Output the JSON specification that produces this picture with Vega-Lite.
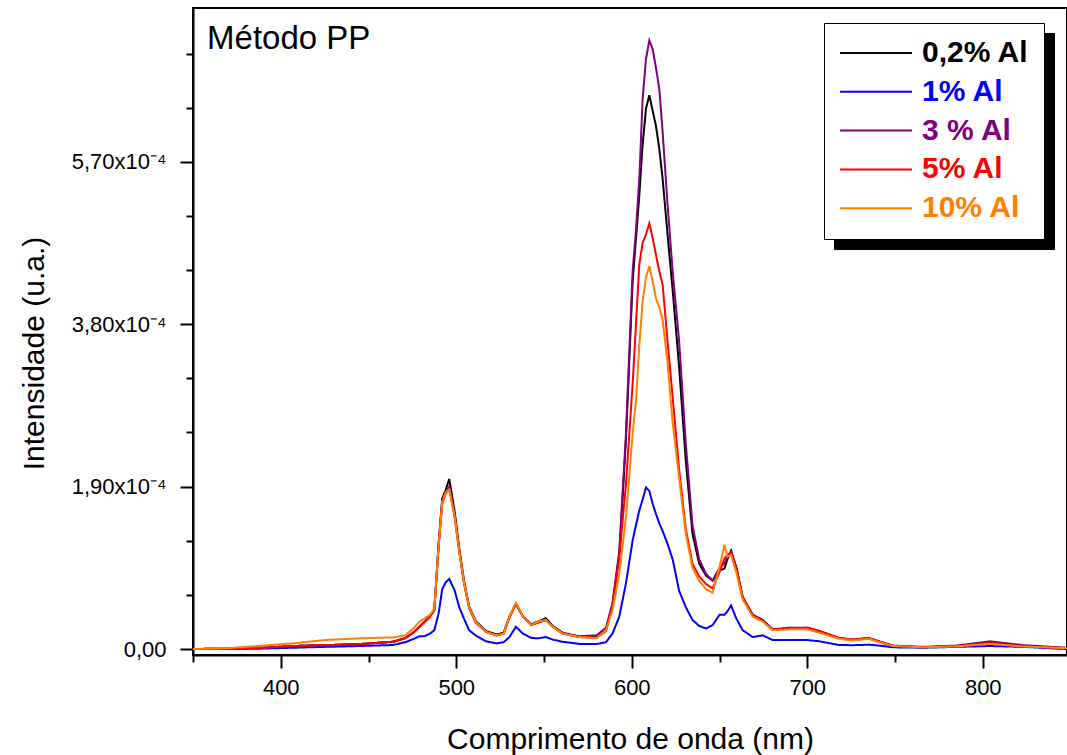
{
 "$schema": "https://vega.github.io/schema/vega-lite/v6.json",
 "width": 874, "height": 647,
 "autosize": {"type": "none"},
 "padding": {"left": 193, "top": 8, "right": 0, "bottom": 100},
 "background": "white",
 "data": {"values": [
  {"w":350,"s1":0,"s2":0,"s3":0,"s4":0,"s5":0},
  {"w":370,"s1":0.005,"s2":0,"s3":0.005,"s4":0.005,"s5":0.01},
  {"w":390,"s1":0.015,"s2":0.005,"s3":0.015,"s4":0.015,"s5":0.04},
  {"w":407,"s1":0.035,"s2":0.015,"s3":0.035,"s4":0.035,"s5":0.066},
  {"w":425,"s1":0.045,"s2":0.025,"s3":0.045,"s4":0.045,"s5":0.105},
  {"w":445,"s1":0.058,"s2":0.035,"s3":0.058,"s4":0.058,"s5":0.125},
  {"w":464,"s1":0.085,"s2":0.047,"s3":0.085,"s4":0.085,"s5":0.136},
  {"w":471,"s1":0.128,"s2":0.08,"s3":0.128,"s4":0.128,"s5":0.16},
  {"w":476,"s1":0.2,"s2":0.12,"s3":0.2,"s4":0.2,"s5":0.25},
  {"w":479,"s1":0.26,"s2":0.15,"s3":0.26,"s4":0.26,"s5":0.32},
  {"w":482,"s1":0.32,"s2":0.15,"s3":0.32,"s4":0.32,"s5":0.36},
  {"w":485,"s1":0.38,"s2":0.18,"s3":0.38,"s4":0.38,"s5":0.4},
  {"w":487.5,"s1":0.46,"s2":0.22,"s3":0.46,"s4":0.45,"s5":0.47},
  {"w":490,"s1":1.25,"s2":0.42,"s3":1.22,"s4":1.22,"s5":1.22},
  {"w":492,"s1":1.76,"s2":0.7,"s3":1.72,"s4":1.7,"s5":1.72},
  {"w":494,"s1":1.86,"s2":0.78,"s3":1.84,"s4":1.82,"s5":1.83},
  {"w":496,"s1":1.99,"s2":0.82,"s3":1.9,"s4":1.87,"s5":1.87},
  {"w":499,"s1":1.62,"s2":0.69,"s3":1.58,"s4":1.56,"s5":1.56},
  {"w":501.7,"s1":1.18,"s2":0.49,"s3":1.15,"s4":1.14,"s5":1.14},
  {"w":504.5,"s1":0.79,"s2":0.35,"s3":0.77,"s4":0.76,"s5":0.77},
  {"w":507.3,"s1":0.5,"s2":0.22,"s3":0.49,"s4":0.48,"s5":0.49},
  {"w":511,"s1":0.33,"s2":0.16,"s3":0.32,"s4":0.31,"s5":0.32},
  {"w":517,"s1":0.21,"s2":0.09,"s3":0.2,"s4":0.2,"s5":0.2},
  {"w":523,"s1":0.17,"s2":0.066,"s3":0.16,"s4":0.16,"s5":0.16},
  {"w":527,"s1":0.19,"s2":0.08,"s3":0.18,"s4":0.18,"s5":0.18},
  {"w":530.3,"s1":0.38,"s2":0.14,"s3":0.37,"s4":0.37,"s5":0.38},
  {"w":534,"s1":0.53,"s2":0.26,"s3":0.53,"s4":0.53,"s5":0.54},
  {"w":538,"s1":0.38,"s2":0.18,"s3":0.38,"s4":0.38,"s5":0.38},
  {"w":542.7,"s1":0.29,"s2":0.13,"s3":0.28,"s4":0.28,"s5":0.28},
  {"w":546.5,"s1":0.32,"s2":0.125,"s3":0.31,"s4":0.31,"s5":0.32},
  {"w":551,"s1":0.36,"s2":0.14,"s3":0.34,"s4":0.34,"s5":0.34},
  {"w":555,"s1":0.27,"s2":0.11,"s3":0.26,"s4":0.26,"s5":0.26},
  {"w":560.6,"s1":0.19,"s2":0.085,"s3":0.19,"s4":0.18,"s5":0.18},
  {"w":570,"s1":0.14,"s2":0.06,"s3":0.15,"s4":0.14,"s5":0.14},
  {"w":580,"s1":0.14,"s2":0.058,"s3":0.16,"s4":0.13,"s5":0.13},
  {"w":585.3,"s1":0.22,"s2":0.08,"s3":0.25,"s4":0.21,"s5":0.22},
  {"w":589,"s1":0.52,"s2":0.18,"s3":0.53,"s4":0.49,"s5":0.45},
  {"w":592.9,"s1":1.1,"s2":0.38,"s3":1.15,"s4":1.08,"s5":0.88},
  {"w":596.7,"s1":2.45,"s2":0.77,"s3":2.52,"s4":1.93,"s5":1.54},
  {"w":600.5,"s1":4.3,"s2":1.27,"s3":4.42,"s4":3.1,"s5":2.52},
  {"w":602.4,"s1":4.8,"s2":1.45,"s3":4.9,"s4":3.8,"s5":2.9},
  {"w":604.3,"s1":5.31,"s2":1.62,"s3":5.5,"s4":4.5,"s5":3.55},
  {"w":606.2,"s1":5.9,"s2":1.75,"s3":6.44,"s4":4.75,"s5":4.07},
  {"w":608.1,"s1":6.32,"s2":1.89,"s3":6.9,"s4":4.85,"s5":4.35},
  {"w":610,"s1":6.48,"s2":1.85,"s3":7.12,"s4":4.98,"s5":4.48},
  {"w":611.9,"s1":6.3,"s2":1.7,"s3":7.02,"s4":4.81,"s5":4.3},
  {"w":613.8,"s1":6.12,"s2":1.58,"s3":6.8,"s4":4.61,"s5":4.1},
  {"w":615.7,"s1":5.85,"s2":1.47,"s3":6.55,"s4":4.42,"s5":4.0},
  {"w":617.6,"s1":5.5,"s2":1.38,"s3":6.05,"s4":4.26,"s5":3.85},
  {"w":620.4,"s1":4.85,"s2":1.23,"s3":5.2,"s4":3.6,"s5":3.35},
  {"w":623.3,"s1":4.2,"s2":1.05,"s3":4.42,"s4":2.95,"s5":2.65},
  {"w":627,"s1":3.3,"s2":0.68,"s3":3.6,"s4":2.1,"s5":2.0},
  {"w":630.8,"s1":2.2,"s2":0.49,"s3":2.4,"s4":1.4,"s5":1.35},
  {"w":634.6,"s1":1.35,"s2":0.34,"s3":1.45,"s4":1.0,"s5":0.95},
  {"w":638.4,"s1":1.0,"s2":0.27,"s3":1.05,"s4":0.85,"s5":0.8},
  {"w":642.3,"s1":0.86,"s2":0.24,"s3":0.88,"s4":0.76,"s5":0.7},
  {"w":646.1,"s1":0.8,"s2":0.28,"s3":0.8,"s4":0.71,"s5":0.66},
  {"w":650,"s1":0.92,"s2":0.4,"s3":0.95,"s4":0.9,"s5":0.96},
  {"w":652.8,"s1":0.94,"s2":0.4,"s3":1.0,"s4":1.06,"s5":1.22},
  {"w":654.5,"s1":1.05,"s2":0.44,"s3":1.08,"s4":1.1,"s5":1.08},
  {"w":656.6,"s1":1.15,"s2":0.51,"s3":1.13,"s4":1.13,"s5":1.1},
  {"w":659.5,"s1":0.96,"s2":0.36,"s3":0.96,"s4":0.95,"s5":0.9},
  {"w":663.2,"s1":0.61,"s2":0.22,"s3":0.6,"s4":0.6,"s5":0.58},
  {"w":668.9,"s1":0.4,"s2":0.14,"s3":0.4,"s4":0.39,"s5":0.38},
  {"w":674.6,"s1":0.34,"s2":0.16,"s3":0.33,"s4":0.33,"s5":0.32},
  {"w":680.3,"s1":0.23,"s2":0.105,"s3":0.23,"s4":0.23,"s5":0.22},
  {"w":690,"s1":0.24,"s2":0.105,"s3":0.25,"s4":0.24,"s5":0.23},
  {"w":700,"s1":0.24,"s2":0.105,"s3":0.25,"s4":0.25,"s5":0.23},
  {"w":707,"s1":0.2,"s2":0.09,"s3":0.21,"s4":0.21,"s5":0.19},
  {"w":718,"s1":0.125,"s2":0.047,"s3":0.13,"s4":0.13,"s5":0.12},
  {"w":726,"s1":0.105,"s2":0.045,"s3":0.11,"s4":0.11,"s5":0.1},
  {"w":735,"s1":0.125,"s2":0.05,"s3":0.13,"s4":0.125,"s5":0.12},
  {"w":741,"s1":0.085,"s2":0.04,"s3":0.09,"s4":0.085,"s5":0.08},
  {"w":749,"s1":0.035,"s2":0.02,"s3":0.04,"s4":0.035,"s5":0.035},
  {"w":766,"s1":0.02,"s2":0.015,"s3":0.025,"s4":0.02,"s5":0.02},
  {"w":785,"s1":0.035,"s2":0.025,"s3":0.04,"s4":0.035,"s5":0.03},
  {"w":804,"s1":0.073,"s2":0.035,"s3":0.09,"s4":0.07,"s5":0.06},
  {"w":823,"s1":0.03,"s2":0.025,"s3":0.045,"s4":0.03,"s5":0.03},
  {"w":848,"s1":0.01,"s2":0,"s3":0.015,"s4":0.01,"s5":0.01}
 ]},
 "layer": [
  {
   "transform": [{"fold": ["s1", "s2", "s3", "s4", "s5"], "as": ["serie", "v"]}],
   "mark": {"type": "line", "strokeWidth": 2, "clip": true},
   "encoding": {
    "x": {"field": "w", "type": "quantitative",
     "scale": {"domain": [350, 848], "nice": false, "zero": false},
     "axis": {"title": "Comprimento de onda (nm)", "values": [350,400,450,500,550,600,650,700,750,800],
      "labelExpr": "datum.value % 100 == 0 ? datum.label : ''",
      "tickSize": {"condition": {"test": "datum.value % 100 == 0", "value": 13}, "value": 7},
      "grid": false, "domainColor": "black", "domainWidth": 2, "tickColor": "black", "tickWidth": 2,
      "labelFont": "Liberation Sans", "labelFontSize": 22, "labelColor": "black", "labelPadding": 9, "labelFlush": false, "labelOverlap": false,
      "titleFont": "Liberation Sans", "titleFontSize": 30, "titleFontWeight": "normal", "titleColor": "black", "titlePadding": 26}},
    "y": {"field": "v", "type": "quantitative",
     "scale": {"domain": [-0.07, 7.5], "nice": false, "zero": false},
     "axis": {"title": "Intensidade (u.a.)", "values": [0,0.31667,0.63333,0.95,1.26667,1.58333,1.9,2.21667,2.53333,2.85,3.16667,3.48333,3.8,4.11667,4.43333,4.75,5.06667,5.38333,5.7,6.01667,6.33333,6.65,6.96667,7.28333],
      "labelExpr": "abs(datum.value) < 0.001 ? '0,00' : (abs(datum.value/1.9 - round(datum.value/1.9)) < 0.001 ? replace(format(datum.value, '.2f'), '.', ',') + 'x10⁻⁴' : '')",
      "tickSize": {"condition": {"test": "abs(datum.value/1.9 - round(datum.value/1.9)) < 0.001", "value": 13}, "value": 7},
      "grid": false, "domainColor": "black", "domainWidth": 2, "tickColor": "black", "tickWidth": 2,
      "labelFont": "Liberation Sans", "labelFontSize": 22, "labelColor": "black", "labelPadding": 14, "labelOverlap": false,
      "titleFont": "Liberation Sans", "titleFontSize": 30, "titleFontWeight": "normal", "titleColor": "black", "titlePadding": 22, "titleY": 345}},
    "color": {"field": "serie", "type": "nominal",
     "scale": {"domain": ["s1", "s2", "s3", "s4", "s5"], "range": ["#000000", "#0000ff", "#800080", "#ff0000", "#ff8000"]},
     "legend": {"orient": "none", "legendX": 631, "legendY": 15, "title": null, "fillColor": "white", "strokeColor": "black", "padding": 15,
      "symbolType": "stroke", "symbolSize": 5184, "symbolStrokeWidth": 2, "clipHeight": 30, "labelFont": "Liberation Sans", "labelFontSize": 30, "labelFontWeight": "bold",
      "labelExpr": "{'s1': '0,2% Al', 's2': '1% Al', 's3': '3 % Al', 's4': '5% Al', 's5': '10% Al'}[datum.value]",
      "labelColor": {"expr": "scale('color', datum.value)"},
      "labelOffset": 9, "rowPadding": 8.8, "labelLimit": 300, "zindex": 2}},
    "strokeDash": {"field": "serie", "type": "nominal",
     "scale": {"domain": ["s5", "s4", "s3", "s2", "s1"], "range": [[1,0],[1,0],[1,0],[1,0],[1,0]]},
     "legend": {"orient": "none", "legendX": 641, "legendY": 25, "title": null, "fillColor": "black", "strokeColor": "black", "padding": 15,
      "symbolType": "stroke", "symbolSize": 5184, "symbolStrokeWidth": 2, "clipHeight": 30, "symbolStrokeColor": "black", "labelColor": "black", "labelFont": "Liberation Sans", "labelFontSize": 30, "labelFontWeight": "bold",
      "labelExpr": "{'s1': '0,2% Al', 's2': '1% Al', 's3': '3 % Al', 's4': '5% Al', 's5': '10% Al'}[datum.value]",
      "labelOffset": 9, "rowPadding": 8.8, "labelLimit": 300, "zindex": 1}}
   }
  },
  {
   "data": {"values": [{"t": "Método PP"}]},
   "mark": {"type": "text", "align": "left", "baseline": "alphabetic", "fontSize": 33, "font": "Liberation Sans", "color": "black"},
   "encoding": {
    "text": {"field": "t"},
    "x": {"datum": 358, "type": "quantitative"},
    "y": {"datum": 7.02, "type": "quantitative"}
   }
  }
 ],
 "config": {"font": "Liberation Sans", "view": {"stroke": "black", "strokeWidth": 2}}
}
